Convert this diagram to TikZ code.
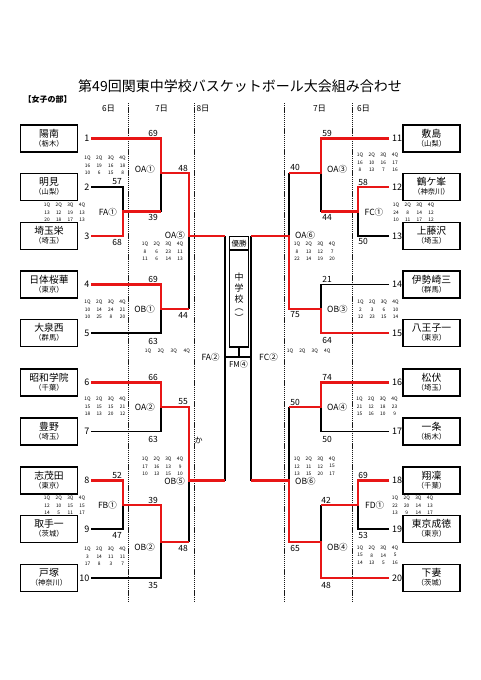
\documentclass[tikz,border=0pt]{standalone}
\usepackage{fontspec}
\setmainfont{Noto Sans CJK JP}
\definecolor{bred}{RGB}{232,22,22}
\tikzset{
 redl/.style={draw=bred,line width=2.7pt,line join=miter},
 blkl/.style={draw=black,line width=1.7pt,line join=miter},
 dayline/.style={draw=black!90,line width=0.9pt,dash pattern=on 1.3pt off 0.8pt},
 teambox/.style={draw,line width=1.3pt,minimum width=57pt,minimum height=27pt,inner sep=0pt},
 tname/.style={inner sep=0pt,font=\fontsize{9.8}{10}\selectfont},
 tpref/.style={inner sep=0pt,font=\fontsize{7.3}{8}\selectfont},
 num/.style={inner sep=0pt,font=\fontsize{9}{9}\selectfont},
 sc/.style={inner sep=0pt,font=\fontsize{8.5}{8.5}\selectfont},
 mlab/.style={inner sep=0pt,font=\fontsize{8.5}{8.5}\selectfont},
 qt/.style={inner sep=0pt,font=\fontsize{4.8}{4.8}\selectfont},
 day/.style={inner sep=0pt,font=\fontsize{8.3}{8.3}\selectfont},
 ttl/.style={inner sep=0pt,font=\fontsize{14}{14}\selectfont},
 sect/.style={inner sep=0pt,font=\bfseries\fontsize{8}{8}\selectfont},
 cbox/.style={draw,line width=1.3pt,minimum width=19pt,inner sep=0pt},
 vch/.style={inner sep=0pt,font=\fontsize{9}{9}\selectfont},
}
\newcommand\tmbox[5]{%
  \node[teambox] (#1) at (#2,#3) {};
  \node[tname] (#1n) at ([yshift=5.2pt]#1.center) {#4};
  \node[tpref] (#1p) at ([yshift=-5.2pt]#1.center) {#5};
}
\newcommand\qtab[5]{%
  \foreach \v [count=\i from 0] in {1Q,2Q,3Q,4Q} \node[qt] (#1h\i) at ({#2+\i*11.7},#3) {\v};
  \foreach \v [count=\i from 0] in {#4} \node[qt] (#1a\i) at ({#2+\i*11.7},{#3+7.3}) {\v};
  \foreach \v [count=\i from 0] in {#5} \node[qt] (#1b\i) at ({#2+\i*11.7},{#3+14.6}) {\v};
}
\begin{document}
\begin{tikzpicture}[x=1pt,y=-1pt]
\useasboundingbox (0,0) rectangle (481,680);
\fill[white] (0,0) rectangle (481,680);

\node[ttl] (title) at (240,86) {第49回関東中学校バスケットボール大会組み合わせ};
\node[sect] (sect) at (47.5,99.5) {【女子の部】};

\node[day] (d1) at (108.5,109) {6日};
\node[day] (d2) at (161.5,109) {7日};
\node[day] (d3) at (203,109) {8日};
\node[day] (d4) at (319.5,109) {7日};
\node[day] (d5) at (363.5,109) {6日};

\foreach \x in {128,194,284,352} \draw[dayline] (\x,103) -- (\x,601);

% ---------- black lines ----------
\draw[blkl] (91,187) -- (123,187) -- (123,211.5);
\draw[blkl] (161,173) -- (161,211.5);
\draw[blkl] (91,333) -- (161,333) -- (161,309);
\draw[blkl] (189,236) -- (189,309);
\draw[blkl] (91,431.5) -- (161,431.5) -- (161,407);
\draw[blkl] (189,480.5) -- (189,542);
\draw[blkl] (91,529) -- (123,529) -- (123,505);
\draw[blkl] (91,578) -- (161,578) -- (161,542);

\draw[blkl] (321,173) -- (321,211.5);
\draw[blkl] (389,236) -- (358,236) -- (358,211.5);
\draw[blkl] (289,173) -- (289,236);
\draw[blkl] (389,284.5) -- (321,284.5) -- (321,309);
\draw[blkl] (389,431.5) -- (321,431.5) -- (321,407);
\draw[blkl] (289,407) -- (289,480.5);
\draw[blkl] (389,529) -- (358,529) -- (358,505);
\draw[blkl] (321,505) -- (321,542);

% center
\draw[blkl] (225,236) -- (225,480.5);
\draw[blkl] (251,236) -- (251,480.5);
\draw[blkl] (225,357) -- (251,357);
\node[cbox,minimum height=13.5pt] (win) at (239,243.3) {};
\node[inner sep=0pt,font=\fontsize{7.5}{7.5}\selectfont] (wint) at (win.center) {優勝};
\node[cbox,minimum height=97pt] (champ) at (239,298.5) {};
\coordinate (fm) at (239,357);
\draw[blkl] (champ.south) -- (fm);
\foreach \c/\yy [count=\k] in {中/277,学/288.3,校/299.3,︵/310,︶/318} \node[vch] (vc\k) at (239,\yy) {\c};

% ---------- red lines ----------
\draw[redl] (91,138.5) -- (161,138.5) -- (161,173) -- (189,173) -- (189,236) -- (225,236);
\draw[redl] (91,236) -- (123,236) -- (123,211.5) -- (161,211.5);
\draw[redl] (91,284.5) -- (161,284.5) -- (161,309) -- (189,309);
\draw[redl] (91,382.5) -- (161,382.5) -- (161,407) -- (189,407) -- (189,480.5) -- (225,480.5);
\draw[redl] (91,480.5) -- (123,480.5) -- (123,505) -- (161,505) -- (161,542) -- (189,542);

\draw[redl] (389,138.5) -- (321,138.5) -- (321,173) -- (289,173);
\draw[redl] (389,187) -- (358,187) -- (358,211.5) -- (321,211.5);
\draw[redl] (389,333) -- (321,333) -- (321,309) -- (289,309) -- (289,236) -- (251,236);
\draw[redl] (389,382.5) -- (321,382.5) -- (321,407) -- (289,407);
\draw[redl] (389,480.5) -- (358,480.5) -- (358,505) -- (321,505);
\draw[redl] (389,578) -- (321,578) -- (321,542) -- (289,542) -- (289,480.5) -- (251,480.5);

% ---------- teams ----------
\tmbox{tl1}{49}{138.5}{陽南}{（栃木）}
\tmbox{tl2}{49}{187}{明見}{（山梨）}
\tmbox{tl3}{49}{236}{埼玉栄}{（埼玉）}
\tmbox{tl4}{49}{284.5}{日体桜華}{（東京）}
\tmbox{tl5}{49}{333}{大泉西}{（群馬）}
\tmbox{tl6}{49}{382.5}{昭和学院}{（千葉）}
\tmbox{tl7}{49}{431.5}{豊野}{（埼玉）}
\tmbox{tl8}{49}{480.5}{志茂田}{（東京）}
\tmbox{tl9}{49}{529}{取手一}{（茨城）}
\tmbox{tl10}{49}{578}{戸塚}{（神奈川）}
\tmbox{tr11}{431.5}{138.5}{敷島}{（山梨）}
\tmbox{tr12}{431.5}{187}{鶴ケ峯}{（神奈川）}
\tmbox{tr13}{431.5}{236}{上藤沢}{（埼玉）}
\tmbox{tr14}{431.5}{284.5}{伊勢崎三}{（群馬）}
\tmbox{tr15}{431.5}{333}{八王子一}{（東京）}
\tmbox{tr16}{431.5}{382.5}{松伏}{（埼玉）}
\tmbox{tr17}{431.5}{431.5}{一条}{（栃木）}
\tmbox{tr18}{431.5}{480.5}{翔凜}{（千葉）}
\tmbox{tr19}{431.5}{529}{東京成徳}{（東京）}
\tmbox{tr20}{431.5}{578}{下妻}{（茨城）}

\foreach \n/\yy in {1/138.5,2/187,3/236,4/284.5,5/333,6/382.5,7/431.5,8/480.5,9/529,10/578}
  \node[num,anchor=east] (nl\n) at (89.5,\yy) {\n};
\foreach \n/\yy in {11/138.5,12/187,13/236,14/284.5,15/333,16/382.5,17/431.5,18/480.5,19/529,20/578}
  \node[num,anchor=west] (nr\n) at (392,\yy) {\n};

% ---------- scores ----------
\foreach \xx/\yy/\s [count=\k] in {153/133/69,153/217/39,117/182/57,117/242/68,183/168/48,183/315/44,
  153/279/69,153/341/63,153/377/66,153/439/63,183/402/55,183/548/48,117/475/52,117/535/47,153/500/39,153/585/35,
  327/133/59,327/217/44,363/182/58,363/241/50,295/167/40,295/315/75,327/279/21,327/340/64,
  327/377/74,327/439/50,295/402/50,295/548/65,363/475/69,363/535/53,326/500/42,326/585/48}
  \node[sc] (s\k) at (\xx,\yy) {\s};

% ---------- match labels ----------
\node[mlab,anchor=east] (mOA1) at (155,169) {OA①};
\node[mlab,anchor=east] (mFA1) at (117,212) {FA①};
\node[mlab,anchor=east] (mOA5) at (185,235.5) {OA⑤};
\node[mlab,anchor=east] (mOB1) at (155,309) {OB①};
\node[mlab,anchor=east] (mOA2) at (155,407) {OA②};
\node[mlab,anchor=east] (mOB5) at (185,481) {OB⑤};
\node[mlab,anchor=east] (mFB1) at (117,505) {FB①};
\node[mlab,anchor=east] (mOB2) at (155,547.5) {OB②};
\node[mlab] (mFA2) at (210.5,357.5) {FA②};
\node[mlab,anchor=west] (mOA3) at (327,169) {OA③};
\node[mlab,anchor=west] (mFC1) at (364.5,212) {FC①};
\node[mlab,anchor=west] (mOA6) at (295,235.5) {OA⑥};
\node[mlab,anchor=west] (mOB3) at (327,309) {OB③};
\node[mlab,anchor=west] (mOA4) at (327,407) {OA④};
\node[mlab,anchor=west] (mOB6) at (295,481) {OB⑥};
\node[mlab,anchor=west] (mFD1) at (365,505) {FD①};
\node[mlab,anchor=west] (mOB4) at (327,547) {OB④};
\node[mlab] (mFC2) at (268.5,357.5) {FC②};
\node[inner sep=0pt,font=\fontsize{8}{8}\selectfont] (mFM4) at (238.5,364) {FM④};
\node[inner sep=0pt,font=\fontsize{8}{8}\selectfont] (ka) at (198.5,440) {か};

% ---------- quarter tables ----------
\qtab{qa}{87.5}{158.5}{16,19,16,18}{10,6,15,8}
\qtab{qb}{47}{205}{13,12,19,13}{20,18,17,13}
\qtab{qc}{145}{244}{8,6,23,11}{11,6,14,13}
\qtab{qd}{87.5}{302}{10,14,24,21}{10,25,8,20}
\qtab{qe}{87.5}{399.5}{15,15,15,21}{18,13,20,12}
\qtab{qf}{145}{459}{17,16,13,9}{10,13,15,10}
\qtab{qg}{47}{498.5}{12,10,15,15}{14,5,11,17}
\qtab{qh}{87.5}{549}{3,14,11,11}{17,8,3,7}
\qtab{qi}{360}{155.5}{16,10,16,17}{8,13,7,16}
\qtab{qj}{396}{205}{24,8,14,12}{10,11,17,12}
\qtab{qk}{297}{244}{8,13,12,7}{22,14,19,20}
\qtab{ql}{360.5}{302}{2,3,6,10}{12,23,15,14}
\qtab{qm}{359.5}{399.5}{21,12,18,23}{15,16,10,9}
\qtab{qn}{297}{459}{12,11,12,15}{13,15,20,17}
\qtab{qo}{395}{498.5}{22,20,14,13}{13,9,14,17}
\qtab{qp}{360}{548}{15,8,14,5}{14,13,5,16}
\foreach \v [count=\i from 0] in {1Q,2Q,3Q,4Q} \node[qt] (qxh\i) at ({148+\i*12.9},351) {\v};
\foreach \v [count=\i from 0] in {1Q,2Q,3Q,4Q} \node[qt] (qyh\i) at ({290+\i*12.4},351) {\v};
\end{tikzpicture}
\end{document}
